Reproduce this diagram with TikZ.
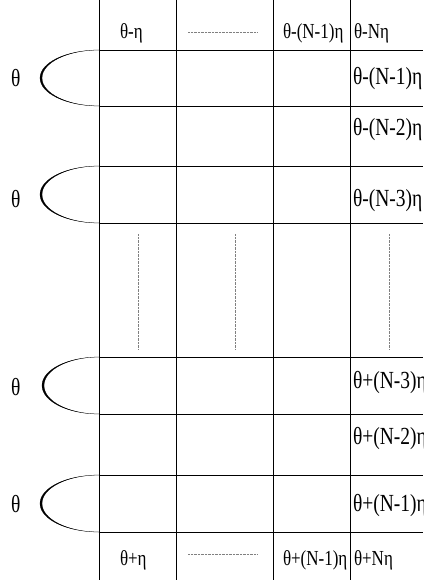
\documentclass[tikz,border=0pt]{standalone}
\usepackage{fontspec}
\setmainfont{Liberation Serif}
\usepackage{graphicx}
\newcommand{\lbl}[1]{\scalebox{1}[1.26]{#1}}
\tikzset{
  grid line/.style={line width=0.8pt, black},
  dotline/.style={line width=0.8pt, gray, dash pattern=on 0.7pt off 0.7pt},
  txt/.style={anchor=base west, inner sep=0pt, outer sep=0pt, font=\fontsize{17}{20}\selectfont},
  bigtxt/.style={txt, font=\fontsize{19.5}{23}\selectfont},
  crescent/.style={fill=black, draw=black, line width=0.25pt}
}
\begin{document}
\begin{tikzpicture}[x=1pt,y=-1pt]
\useasboundingbox (0,0) rectangle (423,580);
% vertical grid lines
\foreach \x in {99,176,273,350} \draw[grid line] (\x,0) -- (\x,580);
% horizontal grid lines
\foreach \y in {50,106,166,223,357,414,475,532} \draw[grid line] (99,\y) -- (423,\y);
% dotted fillers
\draw[dotline] (188,32) -- (257,32);
\draw[dotline] (188,554) -- (257,554);
\foreach \x in {138,235,389} \draw[dotline] (\x,234) -- (\x,349);
% crescent curves
\fill[crescent] (99,50) arc[start angle=270, end angle=90, x radius=59, y radius=28]
  arc[start angle=90, end angle=270, x radius=57, y radius=28] -- cycle;
\fill[crescent] (99,166) arc[start angle=270, end angle=90, x radius=59, y radius=28.5]
  arc[start angle=90, end angle=270, x radius=57, y radius=28.5] -- cycle;
\fill[crescent] (99,357) arc[start angle=270, end angle=90, x radius=57, y radius=28.5]
  arc[start angle=90, end angle=270, x radius=55, y radius=28.5] -- cycle;
\fill[crescent] (99,475) arc[start angle=270, end angle=90, x radius=59, y radius=28.5]
  arc[start angle=90, end angle=270, x radius=57, y radius=28.5] -- cycle;
% left theta labels
\node[bigtxt] (t1) at (11,87) {\lbl{θ}};
\node[bigtxt] (t2) at (11,207) {\lbl{θ}};
\node[bigtxt] (t3) at (11,395) {\lbl{θ}};
\node[bigtxt] (t4) at (11,512) {\lbl{θ}};
% header
\node[txt] (h1) at (120,39) {\lbl{θ-η}};
\node[txt] (h2) at (283,39) {\lbl{θ-(N-1)η}};
\node[txt] (h3) at (354,39) {\lbl{θ-Nη}};
% right column
\node[bigtxt] (r1) at (353,85) {\lbl{θ-(N-1)η}};
\node[bigtxt] (r2) at (353,136) {\lbl{θ-(N-2)η}};
\node[bigtxt] (r3) at (353,206) {\lbl{θ-(N-3)η}};
\node[bigtxt] (r4) at (353,388) {\lbl{θ+(N-3)η}};
\node[bigtxt] (r5) at (353,444) {\lbl{θ+(N-2)η}};
\node[bigtxt] (r6) at (353,511) {\lbl{θ+(N-1)η}};
% footer
\node[txt] (f1) at (120,565) {\lbl{θ+η}};
\node[txt] (f2) at (283,565) {\lbl{θ+(N-1)η}};
\node[txt] (f3) at (354,565) {\lbl{θ+Nη}};
\end{tikzpicture}
\end{document}
